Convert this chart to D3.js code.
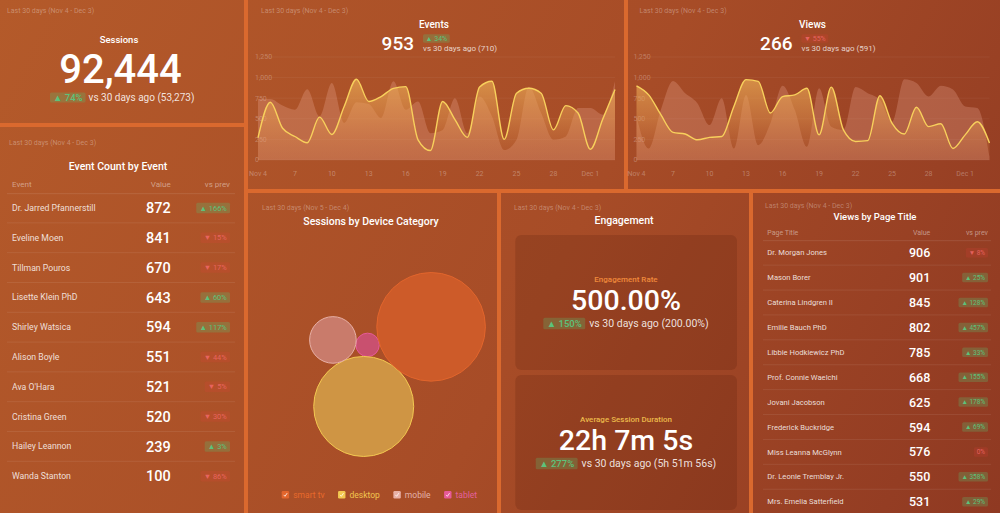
<!DOCTYPE html>
<html><head><meta charset="utf-8">
<script src="https://cdn.jsdelivr.net/npm/d3@7"></script>
<style>
body{margin:0;background:#da692e;overflow:hidden;}
svg{display:block;font-family:Roboto,"Noto Sans",sans-serif;}
</style>
</head><body>
<svg id="c" width="1000" height="513"></svg>
<script>
// ---------------- DATA ----------------
const xTickLabels = ["Nov 4","7","10","13","16","19","22","25","28","Dec 1"];
const yTicks = [0,250,500,750,1000,1250];

const eventsCurrent  = [270,700,385,285,210,520,310,650,980,710,770,870,890,245,115,710,490,275,885,955,250,810,870,810,365,660,570,130,495,855];
const eventsPrevious = [740,740,660,610,860,530,935,450,700,680,510,955,610,710,325,365,750,325,770,530,120,245,890,570,245,285,630,630,550,955];
const viewsCurrent   = [900,790,550,335,315,245,275,285,650,975,955,570,770,790,870,305,885,365,225,235,780,445,315,640,405,440,140,305,465,205];
const viewsPrevious  = [530,140,610,960,810,690,425,750,140,790,180,445,900,610,160,870,405,365,885,810,730,465,980,935,770,900,855,650,630,40];

const eventNames   = ["Dr. Jarred Pfannerstill","Eveline Moen","Tillman Pouros","Lisette Klein PhD","Shirley Watsica","Alison Boyle","Ava O'Hara","Cristina Green","Hailey Leannon","Wanda Stanton"];
const eventValues  = [872,841,670,643,594,551,521,520,239,100];
const eventChanges = [166,-15,-17,60,117,-44,-5,-30,3,-86];

const pageTitles  = ["Dr. Morgan Jones","Mason Borer","Caterina Lindgren II","Emilie Bauch PhD","Libbie Hodkiewicz PhD","Prof. Connie Waelchi","Jovani Jacobson","Frederick Buckridge","Miss Leanna McGlynn","Dr. Leonie Tremblay Jr.","Mrs. Emelia Satterfield"];
const pageValues  = [906,901,845,802,785,668,625,594,576,550,531];
const pageChanges = [-8,25,128,457,33,155,178,69,0,358,29];

const deviceNames    = ["smart tv","desktop","mobile","tablet"];
const deviceSessions = [44470,37710,8190,2070];
const devicePackOrder = ["tablet","desktop","smart tv","mobile"];

// ---------------- STYLE ----------------
const deviceFill   = {"smart tv":"#cd5b29","desktop":"#cf9544","mobile":"#c97b6b","tablet":"#c9506f"};
const deviceStroke = {"smart tv":"#e2652c","desktop":"#f3c851","mobile":"#e8b0a6","tablet":"#e65a98"};
const deviceText   = {"smart tv":"#e86a2c","desktop":"#f2c650","mobile":"#e3b2a9","tablet":"#e4609d"};

const svg = d3.select("#c");
const defs = svg.append("defs");
const pg = defs.append("linearGradient").attr("id","pg").attr("gradientUnits","userSpaceOnUse")
  .attr("x1",0).attr("y1",0).attr("x2",1000).attr("y2",513);
pg.append("stop").attr("offset",0).attr("stop-color","#b45a2a");
pg.append("stop").attr("offset",0.55).attr("stop-color","#a74c27");
pg.append("stop").attr("offset",1).attr("stop-color","#8f3922");

const panels = {
  sessions:{x:0,y:0,w:244,h:123},
  events:{x:248,y:0,w:376,h:189},
  views:{x:628,y:0,w:372,h:189},
  eventTable:{x:0,y:127,w:244,h:386},
  device:{x:248,y:193,w:249,h:320},
  engagement:{x:501,y:193,w:248,h:320},
  pageTable:{x:753,y:193,w:247,h:320}
};
svg.append("rect").attr("width",1000).attr("height",513).attr("fill","#da692e");
Object.values(panels).forEach(p=>{
  svg.append("rect").attr("x",p.x).attr("y",p.y).attr("width",p.w).attr("height",p.h).attr("fill","url(#pg)");
});

const FAINT = "rgba(255,255,255,0.32)";
function txt(x,y,s,size,opts={}){
  return svg.append("text").attr("x",x).attr("y",y).attr("font-size",size)
    .attr("fill",opts.fill||"#fff").attr("font-weight",opts.weight||400)
    .attr("text-anchor",opts.anchor||"start").text(s);
}
function badge(x,yc,h,fs,change,anchor,bold){
  const up = change>0, zero = change===0;
  const label = zero ? "0%" : (up?"▲ ":"▼ ")+Math.abs(change)+"%";
  const g = svg.append("g");
  const rect = g.append("rect");
  const t = g.append("text").attr("font-size",fs).attr("y",yc).attr("dy","0.35em")
    .attr("font-weight",bold?500:400)
    .attr("fill", up ? "#5cc27b" : "rgba(240,105,105,0.85)").text(label);
  const pad = h*0.3;
  const w = t.node().getComputedTextLength()+pad*2;
  const x0 = anchor==="end" ? x-w : x;
  t.attr("x",x0+pad);
  rect.attr("x",x0).attr("y",yc-h/2).attr("width",w).attr("height",h).attr("rx",1.5)
    .attr("fill", up ? "rgba(95,190,110,0.28)" : "rgba(235,60,60,0.16)");
  return w;
}

// ---------------- Sessions KPI ----------------
{
  const p = panels.sessions;
  txt(p.x+7,p.y+13,"Last 30 days (Nov 4 - Dec 3)",7,{fill:FAINT});
  txt(p.x+119,p.y+43,"Sessions",9.5,{anchor:"middle",weight:500});
  txt(p.x+120.5,p.y+83,"92,444",40,{anchor:"middle",weight:500});
  const w = badge(p.x+50,p.y+97.5,10,9.5,74,"start",true);
  txt(p.x+50+w+3,p.y+101,"vs 30 days ago (53,273)",10,{fill:"rgba(255,255,255,0.85)"});
}

// ---------------- Line charts ----------------
function lineChart(p, id, title, value, change, prevLabel, cur, prev){
  txt(p.x+13,p.y+13.3,"Last 30 days (Nov 4 - Dec 3)",7,{fill:FAINT});
  const cx = p.x + 186;
  txt(cx,p.y+27.7,title,10,{anchor:"middle",weight:500});
  txt(cx-20,p.y+50,value,19,{anchor:"end",weight:500});
  badge(cx-11,p.y+38.5,8.5,7,change,"start",false);
  txt(cx-11,p.y+50.7,prevLabel,8,{fill:"rgba(255,255,255,0.75)"});

  const x = d3.scaleLinear().domain([0,cur.length-1]).range([p.x+10,p.x+p.w-9]);
  const y = d3.scaleLinear().domain([0,1250]).range([p.y+160,p.y+57]);
  const g = svg.append("g");
  g.selectAll("line.grid").data(yTicks).join("line")
    .attr("x1",p.x+10).attr("x2",p.x+p.w-9).attr("y1",d=>y(d)).attr("y2",d=>y(d))
    .attr("stroke","rgba(255,255,255,0.05)");
  g.selectAll("text.yt").data(yTicks).join("text")
    .attr("x",p.x+7).attr("y",d=>y(d)).attr("dy","0.35em").attr("font-size",7)
    .attr("fill","rgba(255,255,255,0.28)").text(d=>d3.format(",")(d));
  g.selectAll("text.xt").data(xTickLabels).join("text")
    .attr("x",(d,i)=>x(i*3)).attr("y",p.y+176).attr("font-size",7).attr("text-anchor","middle")
    .attr("fill","rgba(255,255,255,0.3)").text(d=>d);

  const gr = defs.append("linearGradient").attr("id",id).attr("gradientUnits","userSpaceOnUse")
    .attr("x1",0).attr("x2",0).attr("y1",p.y+57).attr("y2",p.y+162);
  gr.append("stop").attr("offset",0).attr("stop-color","#f3bd5a").attr("stop-opacity",0.78);
  gr.append("stop").attr("offset",0.6).attr("stop-color","#e59a52").attr("stop-opacity",0.45);
  gr.append("stop").attr("offset",1).attr("stop-color","#d9824a").attr("stop-opacity",0.08);

  const area = d3.area().x((d,i)=>x(i)).y0(y(0)).y1(d=>y(d)).curve(d3.curveMonotoneX);
  const line = d3.line().x((d,i)=>x(i)).y(d=>y(d)).curve(d3.curveMonotoneX);
  g.append("path").datum(prev).attr("d",area).attr("fill","rgba(250,190,170,0.24)");
  g.append("path").datum(cur).attr("d",area).attr("fill",`url(#${id})`);
  g.append("path").datum(cur).attr("d",line).attr("fill","none").attr("stroke","#f8d05c").attr("stroke-width",1.4);
}
lineChart(panels.events,"ge","Events","953",34,"vs 30 days ago (710)",eventsCurrent,eventsPrevious);
lineChart({...panels.views,x:panels.views.x-1.5},"gv","Views","266",-55,"vs 30 days ago (591)",viewsCurrent,viewsPrevious);

// ---------------- Tables ----------------
function table(p, cfg){
  txt(p.x+cfg.lastX,p.y+cfg.lastY,"Last 30 days (Nov 4 - Dec 3)",7,{fill:FAINT});
  txt(p.x+cfg.titleX,p.y+cfg.titleY,cfg.title,cfg.titleSize,{anchor:"middle",weight:500});
  const hy = p.y+cfg.headY;
  txt(p.x+cfg.nameX,hy,cfg.col,cfg.headSize,{fill:"rgba(255,255,255,0.45)"});
  txt(p.x+cfg.valX,hy,"Value",cfg.headSize,{anchor:"end",fill:"rgba(255,255,255,0.45)"});
  txt(p.x+cfg.badgeX,hy,"vs prev",cfg.headSize,{anchor:"end",fill:"rgba(255,255,255,0.45)"});
  const rowY = i => p.y+cfg.row0+i*cfg.rowH;
  svg.append("line").attr("x1",p.x+cfg.lineX0).attr("x2",p.x+cfg.lineX1)
    .attr("y1",p.y+cfg.headLine).attr("y2",p.y+cfg.headLine).attr("stroke","rgba(255,255,255,0.1)");
  cfg.names.forEach((n,i)=>{
    const yc = rowY(i);
    if(i<cfg.names.length-1){
      svg.append("line").attr("x1",p.x+cfg.lineX0).attr("x2",p.x+cfg.lineX1)
        .attr("y1",yc+cfg.rowH/2).attr("y2",yc+cfg.rowH/2).attr("stroke","rgba(255,255,255,0.08)");
    }
    svg.append("text").attr("x",p.x+cfg.nameX).attr("y",yc).attr("dy","0.35em")
      .attr("font-size",cfg.nameSize).attr("fill","rgba(255,255,255,0.82)").text(n);
    svg.append("text").attr("x",p.x+cfg.valX).attr("y",yc).attr("dy","0.36em")
      .attr("font-size",cfg.valSize).attr("font-weight",500).attr("text-anchor","end").attr("fill","#fff").text(cfg.values[i]);
    badge(p.x+cfg.badgeX,yc,cfg.badgeH,cfg.badgeSize,cfg.changes[i],"end",false);
  });
}
table(panels.eventTable,{
  lastX:9,lastY:17.5,title:"Event Count by Event",titleX:118,titleY:42.5,titleSize:10.5,
  col:"Event",headY:59.5,headSize:8,nameX:12,valX:170.7,badgeX:230,
  lineX0:7,lineX1:235,headLine:66.7,row0:81,rowH:29.8,
  names:eventNames,values:eventValues,changes:eventChanges,
  nameSize:8.7,valSize:14.5,badgeH:10.5,badgeSize:7.5
});
table(panels.pageTable,{
  lastX:12,lastY:14.7,title:"Views by Page Title",titleX:122,titleY:27,titleSize:9.5,
  col:"Page Title",headY:41.7,headSize:7,nameX:14.3,valX:177.3,badgeX:235,
  lineX0:10,lineX1:238,headLine:47.7,row0:59.7,rowH:24.9,
  names:pageTitles,values:pageValues,changes:pageChanges,
  nameSize:7.6,valSize:12.5,badgeH:9.5,badgeSize:6.5
});

// ---------------- Engagement ----------------
{
  const p = panels.engagement;
  txt(p.x+13,p.y+17,"Last 30 days (Nov 4 - Dec 3)",7,{fill:FAINT});
  txt(p.x+123,p.y+31.3,"Engagement",10.5,{anchor:"middle",weight:500});
  const cards = [
    {y:42,label:"Engagement Rate",lc:"#f08a3c",value:"500.00%",change:150,prev:"vs 30 days ago (200.00%)"},
    {y:182,label:"Average Session Duration",lc:"#ebb94b",value:"22h 7m 5s",change:277,prev:"vs 30 days ago (5h 51m 56s)"}
  ];
  cards.forEach(c=>{
    const cy = p.y+c.y;
    svg.append("rect").attr("x",p.x+14.3).attr("y",cy).attr("width",221.7).attr("height",135).attr("rx",6)
      .attr("fill","rgba(70,20,8,0.17)");
    const mid = p.x+125;
    txt(mid,cy+47,c.label,8,{anchor:"middle",fill:c.lc,weight:500});
    txt(mid,cy+75,c.value,28.5,{anchor:"middle",weight:500});
    const tmp = svg.append("text").attr("font-size",10.5).text(c.prev);
    const tw = tmp.node().getComputedTextLength(); tmp.remove();
    const tb = svg.append("text").attr("font-size",9.5).attr("font-weight",500).text("▲ "+c.change+"%");
    const bw = tb.node().getComputedTextLength()+6.9; tb.remove();
    const total = bw+4+tw;
    const sx = mid - total/2;
    badge(sx,cy+88.5,11.5,9.5,c.change,"start",true);
    txt(sx+bw+4,cy+92,c.prev,10.5,{fill:"rgba(255,255,255,0.85)"});
  });
}

// ---------------- Sessions by Device (packed bubbles) ----------------
{
  const p = panels.device;
  txt(p.x+14,p.y+17,"Last 30 days (Nov 5 - Dec 4)",7,{fill:FAINT});
  txt(p.x+123,p.y+32,"Sessions by Device Category",10.5,{anchor:"middle",weight:500});
  const r = d3.scaleSqrt().domain([0,d3.max(deviceSessions)]).range([0,54.3]);
  const nodes = devicePackOrder.map(n=>({name:n,value:deviceSessions[deviceNames.indexOf(n)]}));
  nodes.forEach(d=>d.r=r(d.value));
  d3.packSiblings(nodes);
  // orient the pack (mirror + rotate) then center it in the plot area
  const ang = 93.6*Math.PI/180, ca=Math.cos(ang), sa=Math.sin(ang);
  nodes.forEach(d=>{ const x=d.x, y=-d.y; d.x = x*ca - y*sa; d.y = x*sa + y*ca; });
  const x0=d3.min(nodes,d=>d.x-d.r), x1=d3.max(nodes,d=>d.x+d.r);
  const y0=d3.min(nodes,d=>d.y-d.r), y1=d3.max(nodes,d=>d.y+d.r);
  const ccx = p.x+149.5, ccy = p.y+171.5;
  const g = svg.append("g").attr("transform",`translate(${ccx-(x0+x1)/2},${ccy-(y0+y1)/2})`);
  g.selectAll("circle").data(nodes).join("circle")
    .attr("cx",d=>d.x).attr("cy",d=>d.y).attr("r",d=>d.r)
    .attr("fill",d=>deviceFill[d.name]).attr("stroke",d=>deviceStroke[d.name]).attr("stroke-width",1);
  // legend
  const ly = p.y+301.7;
  let lx = p.x+33.7;
  deviceNames.forEach(n=>{
    const lg = svg.append("g");
    lg.append("rect").attr("x",lx).attr("y",ly-3.7).attr("width",7.4).attr("height",7.4).attr("rx",1.2)
      .attr("fill",deviceStroke[n]);
    lg.append("path").attr("d",`M${lx+2},${ly+0.2} L${lx+3.3},${ly+1.6} L${lx+5.5},${ly-1.6}`)
      .attr("fill","none").attr("stroke","rgba(255,255,255,0.85)").attr("stroke-width",0.9);
    const t = lg.append("text").attr("x",lx+11.5).attr("y",ly).attr("dy","0.35em").attr("font-size",8.5)
      .attr("fill",deviceText[n]).text(n);
    lx += 11.5 + t.node().getComputedTextLength() + 13.5;
  });
}
</script>
</body></html>
